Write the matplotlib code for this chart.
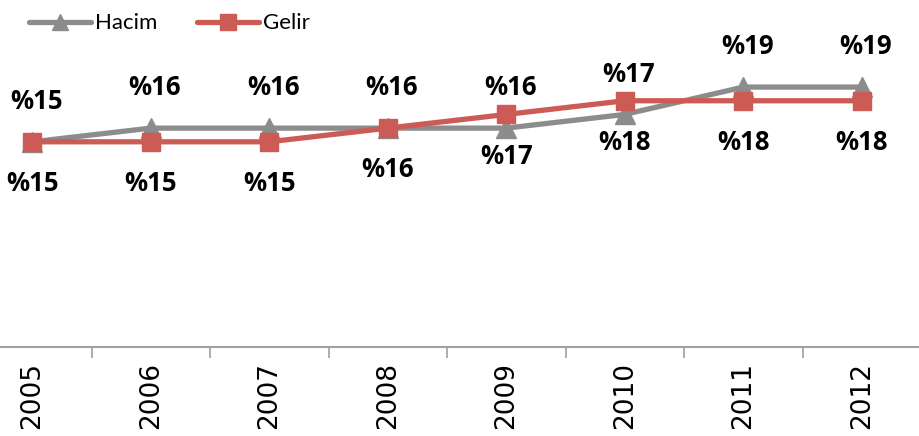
import matplotlib
matplotlib.use("Agg")
import matplotlib.pyplot as plt
from matplotlib.lines import Line2D

# ================================================================
# DATA
# ================================================================
years = ["2005", "2006", "2007", "2008", "2009", "2010", "2011", "2012"]
hacim = [15, 16, 16, 16, 16, 17, 19, 19]
gelir = [15, 15, 15, 16, 17, 18, 18, 18]

GRAY = "#8c8c8c"
RED = "#cd5b55"

plt.rcParams["font.family"] = ["Lato", "DejaVu Sans"]

fig = plt.figure(figsize=(9.19, 4.36), dpi=100)
# plot area runs slightly off the left edge, as in the original
ax = fig.add_axes([-27 / 919, 1 - 347 / 436, 948 / 919, 342 / 436])

x = list(range(len(years)))
ax.plot(x, hacim, color=GRAY, linewidth=3.8, marker="^", markersize=15,
        solid_capstyle="round", zorder=3)
ax.plot(x, gelir, color=RED, linewidth=3.8, marker="s", markersize=13,
        solid_capstyle="round", zorder=4)

label_font = dict(fontsize=18.5, fontweight="bold",
                  fontfamily=["Open Sans", "DejaVu Sans"])
for xi, v in zip(x, hacim):
    ax.annotate(f"%{v}", (xi, v), xytext=(3, 29), textcoords="offset points",
                ha="center", va="center", **label_font)
for xi, v in zip(x, gelir):
    ax.annotate(f"%{v}", (xi, v), xytext=(0, -30), textcoords="offset points",
                ha="center", va="center", **label_font)

ax.set_xlim(-0.5, len(years) - 0.5)
ax.set_ylim(0, 25)
ax.set_yticks([])
ax.set_xticks(x)
ax.set_xticklabels(years, rotation=90, fontsize=19,
                   fontfamily=["DejaVu Sans"])
ax.set_xticks([i + 0.5 for i in x[:-1]], minor=True)
ax.tick_params(axis="x", which="major", length=0, pad=11)
ax.tick_params(axis="x", which="minor", length=8, width=1.2, color="#a0a0a0")

for side in ["top", "right", "left"]:
    ax.spines[side].set_visible(False)
ax.spines["bottom"].set_color("#a0a0a0")
ax.spines["bottom"].set_linewidth(1.5)

handles = [
    Line2D([], [], color=GRAY, linewidth=3.8, marker="^", markersize=12,
           solid_capstyle="round"),
    Line2D([], [], color=RED, linewidth=3.8, marker="s", markersize=11,
           solid_capstyle="round"),
]
fig.legend(handles, ["Hacim", "Gelir"], loc="upper left",
           bbox_to_anchor=(0.01, 1.015), ncol=2, frameon=False, fontsize=16,
           handlelength=2.8, handletextpad=0.15, columnspacing=1.8)

fig.savefig("out.png", dpi=100)
